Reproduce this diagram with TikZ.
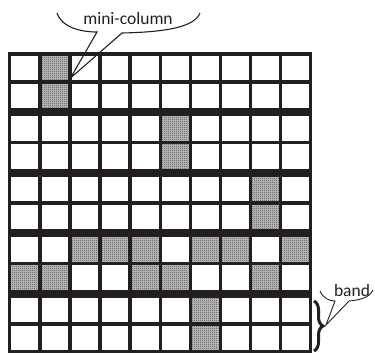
\documentclass[tikz,border=0pt]{standalone}
\usepackage{fontspec}
\setmainfont{Carlito}
\usetikzlibrary{patterns.meta,decorations.pathreplacing}
\definecolor{ink}{HTML}{231F20}
\tikzdeclarepattern{name=checker, type=uncolored,
  bottom left={(0pt,0pt)}, top right={(2pt,2pt)}, tile size={(2pt,2pt)},
  code={\fill (0pt,0pt) rectangle (1pt,1pt); \fill (1pt,1pt) rectangle (2pt,2pt);}}
\tikzset{
  cellbox/.style={fill=white, draw=none, inner sep=0pt, outer sep=0pt,
    minimum width=26.7pt, minimum height=24.3pt, anchor=north west},
  callout/.style={draw=ink, line width=1.1pt, line join=miter},
  lbl/.style={font=\fontsize{17.5}{17.5}\selectfont, text=ink, inner sep=0pt},
  bracestyle/.style={draw=ink, line width=3pt,
    decorate, decoration={brace, amplitude=9pt}}
}
\begin{document}
\begin{tikzpicture}[x=1pt,y=-1pt]
\useasboundingbox (0,0) rectangle (375,354);
% black frame of the grid
\fill[ink] (8,52) rectangle (312.3,353);
% cells
\foreach \r in {0,...,9}{
  \foreach \c in {0,...,9}{
    \pgfmathsetmacro{\xx}{11.4+30.1*\c}
    \pgfmathsetmacro{\yy}{55.6+60.6*int(\r/2)+28.0*mod(\r,2)}
    \node[cellbox] (c-\r-\c) at (\xx,\yy) {};
  }
}
% hatched mini-columns
\foreach \r/\c in {0/1,1/1,2/5,3/5,4/8,5/8,6/2,6/3,6/4,6/6,6/7,6/9,7/0,7/1,7/4,7/5,7/8,8/6,9/6}{
  \fill[black!22] (c-\r-\c.north west) rectangle (c-\r-\c.south east);
  \path[pattern=checker, pattern color=ink] (c-\r-\c.north west) rectangle (c-\r-\c.south east);
}
% mini-column callout
\node[lbl] (mc) at (128,18.5) {mini-column};
\coordinate (mctip) at (70.5,78);
\draw[callout] (57,13) .. controls (62,28) and (82,32) .. (97,32) -- (mctip)
  -- (122,33) .. controls (170,32) and (195,26) .. (200,13);
% band brace and callout
\node[lbl] (bd) at (352,290) {band};
\coordinate (btop) at (314,301);
\coordinate (bbot) at (314,351);
\draw[bracestyle] (btop) -- (bbot);
\coordinate (bdtip) at (326,325);
\draw[callout, line width=0.9pt] (320,291) .. controls (323,298) and (329,301) .. (335,301) -- (bdtip)
  -- (349,301) .. controls (361,300) and (370,297) .. (373,290);
\end{tikzpicture}
\end{document}
